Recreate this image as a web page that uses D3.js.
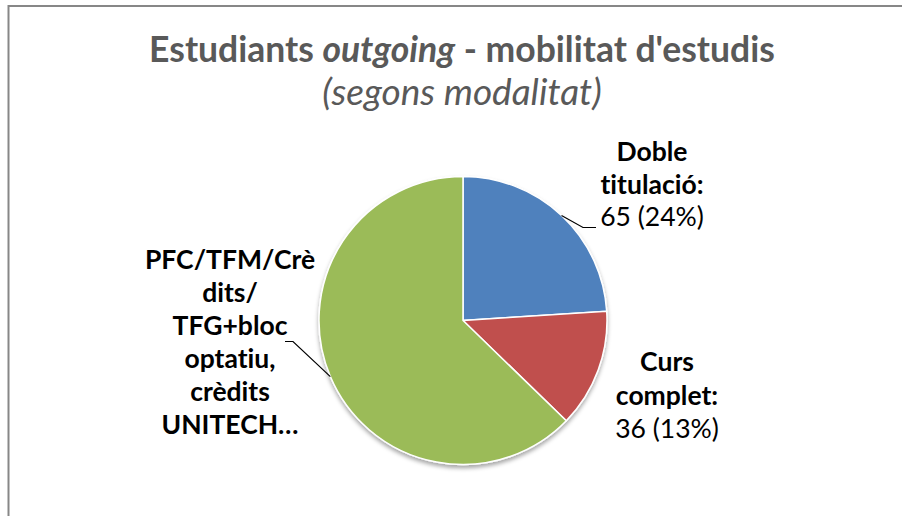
<!DOCTYPE html>
<html><head><meta charset="utf-8">
<script src="https://cdn.jsdelivr.net/npm/d3@7"></script>
<style>html,body{margin:0;padding:0;background:#fff;overflow:hidden}text{font-variant-ligatures:none;font-feature-settings:"liga" 0,"clig" 0}</style>
</head><body><svg id="c" width="902" height="516"></svg>
<script>
const categories = ["Doble titulació", "Curs complet", "PFC/TFM/Crèdits/TFG+bloc optatiu, crèdits UNITECH…"];
const values = [65, 36, 170];
const labelLines = [["Doble", "titulació:"], ["Curs", "complet:"], ["PFC/TFM/Crè", "dits/", "TFG+bloc", "optatiu,", "crèdits", "UNITECH…"]];
const showValue = [true, true, false];
const colors = ["#4F81BD", "#C0504D", "#9BBB59"];
const titleMain = ["Estudiants ", "outgoing", " - mobilitat d'estudis"];
const subtitle = "(segons modalitat)";

const svg = d3.select("#c");
const font = "Lato, 'Open Sans', sans-serif";
svg.append("rect").attr("x", 8.5).attr("y", 6).attr("width", 1000).attr("height", 600)
  .attr("fill", "#fff").attr("stroke", "#878787").attr("stroke-width", 2);

const defs = svg.append("defs");
const f = defs.append("filter").attr("id", "sh").attr("x", "-20%").attr("y", "-20%").attr("width", "140%").attr("height", "140%");
f.append("feDropShadow").attr("dx", 0).attr("dy", 3).attr("stdDeviation", 2).attr("flood-color", "#000").attr("flood-opacity", 0.35);

// title
const t = svg.append("text").attr("x", 462).attr("y", 62).attr("text-anchor", "middle")
  .attr("font-family", font).attr("font-size", 35.5).attr("font-weight", "bold").attr("fill", "#595959");
titleMain.forEach((s, i) => t.append("tspan").text(s).attr("font-style", i === 1 ? "italic" : "normal"));
svg.append("text").attr("x", 462).attr("y", 105).attr("text-anchor", "middle")
  .attr("font-family", font).attr("font-size", 37).attr("font-style", "italic").attr("fill", "#595959").text(subtitle);

const cx = 463, cy = 320.5, R = 144;
const total = d3.sum(values);
const pie = d3.pie().sort(null).value(d => d)(values);
const arc = d3.arc().innerRadius(0).outerRadius(R);
const g = svg.append("g").attr("transform", `translate(${cx},${cy})`);
g.append("g").attr("filter", "url(#sh)").selectAll("path").data(pie).join("path")
  .attr("d", arc).attr("fill", (d, i) => colors[i]).attr("stroke", "#fff").attr("stroke-width", 1.5);

// labels layout (center x, first baseline y, leader end)
const layout = [
  {x: 652, y: 161, lh: 32.5, leader: [[583, 227.5], [596, 227.5]]},
  {x: 667, y: 371, lh: 33.5, leader: null},
  {x: 230, y: 269, lh: 33, leader: [[293, 341.5], [285, 341.5]]}
];
pie.forEach((d, i) => {
  const L = layout[i];
  const lines = labelLines[i].map(s => ({s, b: true}));
  if (showValue[i]) lines.push({s: `${values[i]} (${Math.round(values[i] / total * 100)}%)`, b: false});
  const tx = svg.append("text").attr("font-family", font).attr("font-size", 26.5).attr("fill", "#000").attr("text-anchor", "middle");
  lines.forEach((l, k) => tx.append("tspan").attr("x", L.x).attr("y", L.y + k * L.lh)
    .attr("font-weight", l.b ? "bold" : "normal").text(l.s));
  if (L.leader) {
    const a = (d.startAngle + d.endAngle) / 2;
    const p0 = [cx + R * Math.sin(a), cy - R * Math.cos(a)];
    svg.append("path").attr("d", d3.line()([p0, ...L.leader])).attr("fill", "none").attr("stroke", "#000").attr("stroke-width", 1.2);
  }
});
</script></body></html>
